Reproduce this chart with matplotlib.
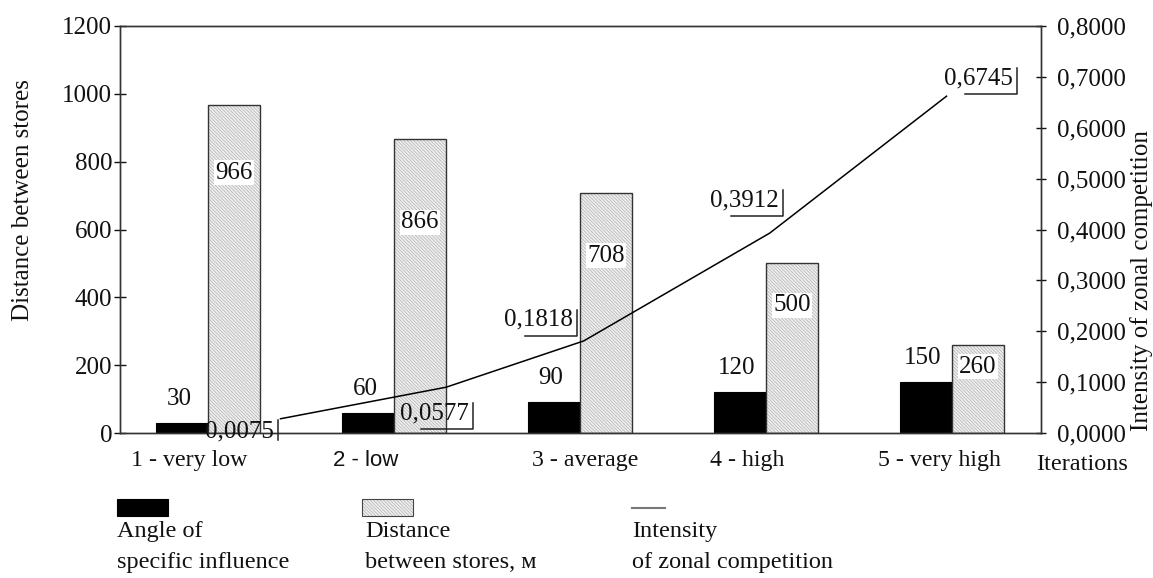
import matplotlib
matplotlib.use("Agg")
import matplotlib.pyplot as plt
import numpy as np
from matplotlib.patches import Rectangle
from matplotlib.lines import Line2D
from matplotlib.ticker import FuncFormatter, MultipleLocator

# ---------------- data ----------------
categories = ["1 - very low", "2 - low", "3 - average", "4 - high", "5 - very high"]
angle_values = [30, 60, 90, 120, 150]
distance_values = [966, 866, 708, 500, 260]
intensity_labels = ["0,0075", "0,0577", "0,1818", "0,3912", "0,6745"]
intensity_line = [0.028, 0.090, 0.181, 0.393, 0.662]   # line as drawn in the picture
intensity_line_x = [0.39, 1.28, 2.02, 3.02, 3.97]       # line points, in category units

# ---------------- layout ----------------
W, H, DPI = 1153, 578, 100
FONT = "Liberation Serif"
TXT = "#111111"
HATCH = "\\" * 10
plt.rcParams["font.family"] = [FONT, "DejaVu Serif"]
plt.rcParams["hatch.linewidth"] = 0.5

fig = plt.figure(figsize=(W / DPI, H / DPI), dpi=DPI)
ax_l, ax_r, ax_t, ax_b = 120, 1041, 26, 433
ax = fig.add_axes([ax_l / W, 1 - ax_b / H, (ax_r - ax_l) / W, (ax_b - ax_t) / H])
ax2 = ax.twinx()

x = np.arange(len(categories))
bw = 0.28
ax.set_xlim(-0.473, 4.478)
ax.set_ylim(0, 1200)
ax2.set_ylim(0, 0.8)

# bars
ax.bar(x - bw / 2, angle_values, bw, color="black", edgecolor="black", linewidth=0.8)
ax.bar(x + bw / 2, distance_values, bw, color="#efefef", edgecolor="#b0b0b0",
       hatch=HATCH, linewidth=0)
ax.bar(x + bw / 2, distance_values, bw, fill=False, edgecolor="#333333", linewidth=1.0)

# line
ax2.plot(intensity_line_x, intensity_line, color="black", lw=1.1)

# spines / ticks
for a in (ax, ax2):
    for s in a.spines.values():
        s.set_color("#333333")
        s.set_linewidth(1.0)
ax.yaxis.set_major_locator(MultipleLocator(200))
ax.tick_params(axis="y", direction="inout", length=8.5, width=1, pad=1.5,
               labelsize=18, colors=TXT)
ax2.yaxis.set_major_locator(MultipleLocator(0.1))
ax2.yaxis.set_major_formatter(FuncFormatter(lambda v, p: f"{v:.4f}".replace(".", ",")))
ax2.tick_params(axis="y", direction="inout", length=7.5, width=1, pad=8,
                labelsize=18, colors=TXT)

cat_label_x = [-0.10, 0.85, 2.03, 2.90, 3.93]
ax.set_xticks(cat_label_x)
ax.set_xticklabels(categories)
ax.tick_params(axis="x", length=0, pad=12, labelsize=17.2, colors=TXT)
for i, t in enumerate(ax.get_xticklabels()):
    if i == 1:
        t.set_fontfamily("Liberation Sans")
        t.set_fontsize(16)

# bar value labels
for xi, v in zip(x, angle_values):
    ax.annotate(str(v), (xi - bw / 2, v), xytext=(-2.2, 17.3), textcoords="offset points",
                ha="center", va="center", fontsize=18, color=TXT)
dist_label_y = [767, 622, 522, 377, 195]
for xi, v, yl in zip(x, distance_values, dist_label_y):
    ax.text(xi + bw / 2, yl, str(v), ha="center", va="center", fontsize=18, color=TXT,
            bbox=dict(fc="white", ec="none", pad=1.0))

# line value labels with L-shaped callouts
lab_offsets = [(-29.5, -9.4), (-8.6, -18.7), (-32.8, 15.1), (-18.4, 23.8), (23.0, 13.0)]
underline = [False, True, True, True, True]
texts = []
for xi, yi, s, off in zip(intensity_line_x, intensity_line, intensity_labels, lab_offsets):
    t = ax2.annotate(s, (xi, yi), xytext=off, textcoords="offset points",
                     ha="center", va="center", fontsize=18, color=TXT)
    texts.append(t)

# axis titles
fig.text(23 / W, 1 - 200 / H, "Distance between stores", rotation=90, ha="center",
         va="center", fontsize=18, color=TXT)
fig.text(1142 / W, 1 - 281 / H, "Intensity of zonal competition", rotation=90, ha="center",
         va="center", fontsize=18, color=TXT)
fig.text(1082 / W, 1 - 465 / H, "Iterations", ha="center", va="center", fontsize=17.5,
         color=TXT)

# legend
def px_rect(x0, y0, x1, y1, **kw):
    fig.patches.append(Rectangle((x0 / W, 1 - y1 / H), (x1 - x0) / W, (y1 - y0) / H,
                                 transform=fig.transFigure, **kw))

px_rect(117, 499, 168, 516, facecolor="black", edgecolor="black", lw=0.8)
px_rect(362, 499, 413, 516, facecolor="#efefef", edgecolor="#b0b0b0", hatch=HATCH, lw=0)
px_rect(362, 499, 413, 516, fill=False, edgecolor="#444444", lw=0.8)
fig.add_artist(Line2D([632 / W, 665 / W], [1 - 508 / H] * 2, transform=fig.transFigure,
                      color="#777777", lw=1.5))
leg_text = [(117, "Angle of", "specific influence"),
            (365, "Distance", "between stores, м"),
            (632, "Intensity", "of zonal competition")]
for lx, l1, l2 in leg_text:
    fig.text(lx / W, 1 - 537 / H, l1, ha="left", va="baseline", fontsize=17.5, color=TXT)
    fig.text(lx / W, 1 - 568 / H, l2, ha="left", va="baseline", fontsize=17.5, color=TXT)

# draw callout brackets after layout is known
fig.canvas.draw()
r = fig.canvas.get_renderer()
inv = fig.transFigure.inverted()
for t, ul in zip(texts, underline):
    bb = t.get_window_extent(r)
    cy = 0.5 * (bb.y0 + bb.y1)
    xr = bb.x1 + 4
    if ul:
        ybot = cy - 16
        xs = [bb.x0 + 0.31 * bb.width, xr, xr]
        ys = [ybot, ybot, cy + 10]
    else:
        xs = [xr, xr]
        ys = [cy - 8, cy + 12]
    pts = inv.transform(np.column_stack([xs, ys]))
    fig.add_artist(Line2D(pts[:, 0], pts[:, 1], transform=fig.transFigure,
                          color="#222222", lw=1.1))

fig.savefig("out.png", dpi=DPI)
